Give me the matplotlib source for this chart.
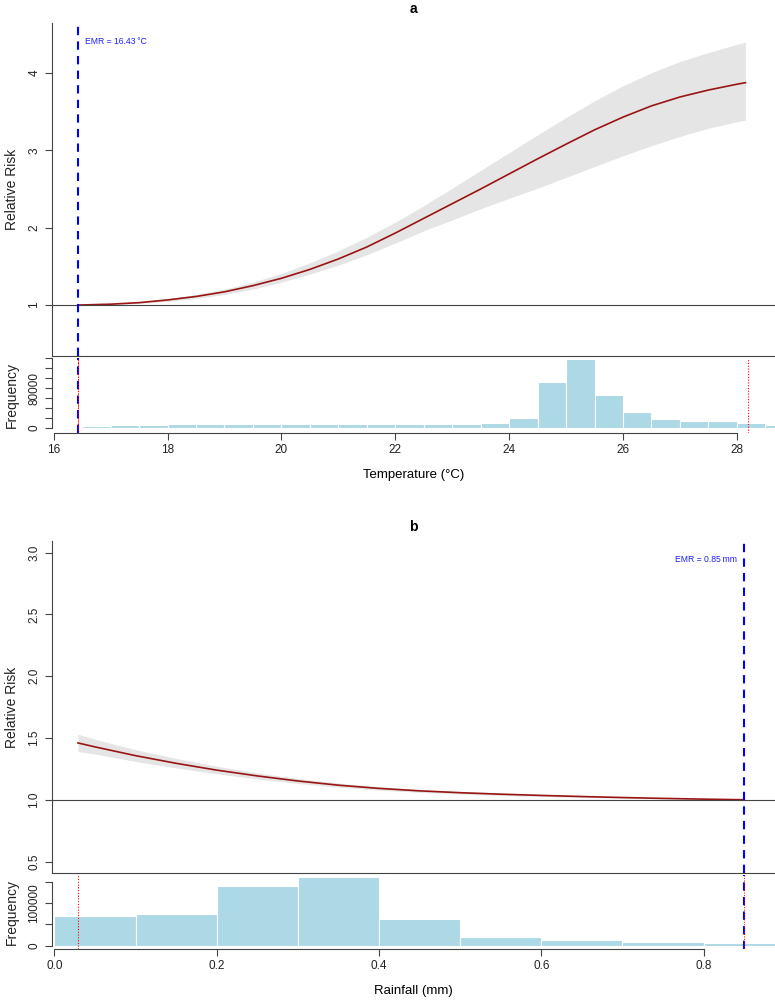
import matplotlib
matplotlib.use("Agg")
import matplotlib.pyplot as plt

plt.rcParams['font.family'] = ['Liberation Sans', 'DejaVu Sans']

# ---- panel a: temperature ----
temp_x = [16.43, 16.5, 17.0, 17.5, 18.0, 18.5, 19.0, 19.5, 20.0, 20.5, 21.0,
          21.5, 22.0, 22.5, 23.0, 23.5, 24.0, 24.5, 25.0, 25.5, 26.0, 26.5,
          27.0, 27.5, 28.0, 28.15]
temp_rr = [1.000, 1.000, 1.010, 1.030, 1.065, 1.110, 1.170, 1.250, 1.345,
           1.460, 1.595, 1.750, 1.930, 2.120, 2.310, 2.500, 2.695, 2.890,
           3.080, 3.265, 3.430, 3.575, 3.690, 3.780, 3.855, 3.875]
temp_lo = [1.000, 1.000, 1.005, 1.020, 1.045, 1.085, 1.135, 1.205, 1.295,
           1.400, 1.515, 1.650, 1.800, 1.960, 2.100, 2.245, 2.380, 2.510,
           2.650, 2.790, 2.930, 3.060, 3.180, 3.285, 3.370, 3.390]
temp_hi = [1.000, 1.000, 1.015, 1.040, 1.080, 1.135, 1.205, 1.295, 1.410,
           1.545, 1.700, 1.875, 2.070, 2.285, 2.510, 2.740, 2.970, 3.200,
           3.425, 3.640, 3.835, 4.005, 4.150, 4.265, 4.370, 4.400]
temp_edges = [16.0, 16.5, 17.0, 17.5, 18.0, 18.5, 19.0, 19.5, 20.0, 20.5, 21.0,
              21.5, 22.0, 22.5, 23.0, 23.5, 24.0, 24.5, 25.0, 25.5, 26.0, 26.5,
              27.0, 27.5, 28.0, 28.5, 29.0]
temp_counts = [2700, 4000, 5300, 5300, 7300, 7300, 7300, 7300, 7300, 7300, 7300,
               7300, 7300, 7300, 7300, 9300, 21000, 93000, 138000, 66000, 33000,
               18000, 15000, 14700, 10700, 6700]
temp_emr = 16.43
temp_p99 = 28.19

# ---- panel b: rainfall ----
rain_x = [0.029, 0.05, 0.10, 0.15, 0.20, 0.25, 0.30, 0.35, 0.40, 0.45, 0.50,
          0.55, 0.60, 0.65, 0.70, 0.75, 0.80, 0.85]
rain_rr = [1.460, 1.428, 1.357, 1.295, 1.240, 1.193, 1.152, 1.118, 1.092,
           1.072, 1.057, 1.045, 1.035, 1.026, 1.018, 1.011, 1.005, 1.000]
rain_lo = [1.390, 1.370, 1.310, 1.258, 1.210, 1.168, 1.132, 1.102, 1.078,
           1.060, 1.046, 1.035, 1.026, 1.019, 1.012, 1.007, 1.003, 1.000]
rain_hi = [1.530, 1.490, 1.405, 1.335, 1.272, 1.218, 1.172, 1.135, 1.106,
           1.084, 1.068, 1.055, 1.044, 1.033, 1.024, 1.015, 1.007, 1.000]
rain_edges = [0.0, 0.1, 0.2, 0.3, 0.4, 0.5, 0.6, 0.7, 0.8, 0.9]
rain_counts = [71000, 75000, 140600, 161000, 62500, 21000, 14000, 9400, 5500]
rain_emr = 0.85
rain_p01 = 0.029

W, H = 775, 1001
fig = plt.figure(figsize=(W / 100, H / 100), dpi=100)

AX_COL = "#444444"
CURVE = "#9a1414"
BAND = "#e5e5e5"
HIST = "#add8e6"
EMR_COL = "#2020ff"


def box(left, top, right, bottom):
    # pixel box -> figure fraction
    return [left / W, 1 - bottom / H, (right - left) / W, (bottom - top) / H]


def style(ax):
    for s in ["top", "right", "bottom", "left"]:
        ax.spines[s].set_visible(False)
    ax.tick_params(colors=AX_COL, labelcolor="#222222", length=5, width=0.8,
                   labelsize=8.5)


def panel(top, main_bot, hist_top, hist_bot, x, rr, lo, hi, xlim, ylim, yticks,
          edges, counts, hylim, hticks, hlabels, xticks, xlabels, xlabel, title,
          emr, emr_text, emr_left, red_lines):
    ax = fig.add_axes(box(52, top, 775, main_bot))
    style(ax)
    ax.fill_between(x, lo, hi, color=BAND, lw=0)
    ax.plot(x, rr, color=CURVE, lw=1.2)
    ax.axhline(1, color=AX_COL, lw=0.8)
    ax.axvline(emr, color="blue", lw=1.5, ls=(0, (4, 3)))
    ax.set_xlim(xlim)
    ax.set_ylim(ylim)
    ax.set_xticks([])
    ax.set_yticks(yticks)
    ax.set_yticklabels([str(t) for t in yticks])
    plt.setp(ax.get_yticklabels(), rotation=90, va="center")
    for s in ["left", "bottom"]:
        ax.spines[s].set_visible(True)
        ax.spines[s].set_color(AX_COL)
        ax.spines[s].set_linewidth(0.8)
    ax.set_title(title, fontsize=10, fontweight="bold", pad=7)
    ty = ylim[1] - (ylim[1] - ylim[0]) * 0.055
    off = (xlim[1] - xlim[0]) * 0.01
    if emr_left:
        ax.text(emr - off, ty, emr_text, color=EMR_COL,
                fontsize=6.2, ha="right", va="center")
    else:
        ax.text(emr + off, ty, emr_text, color=EMR_COL,
                fontsize=6.2, ha="left", va="center")

    hx = fig.add_axes(box(52, hist_top, 775, hist_bot))
    style(hx)
    widths = [edges[i + 1] - edges[i] for i in range(len(counts))]
    hx.bar(edges[:-1], counts, width=widths, align="edge", color=HIST,
           edgecolor="white", lw=0.8)
    for v in red_lines:
        hx.axvline(v, color="red", lw=0.8, ls=(0, (1, 1.5)))
    hx.axvline(emr, color="blue", lw=1.5, ls=(0, (4, 3)))
    hx.axvline(emr, color="red", lw=0.7, ls=(0, (1, 1.5)))
    hx.set_xlim(xlim)
    hx.set_ylim(hylim)
    hx.set_yticks(hticks)
    hx.set_yticklabels(hlabels)
    plt.setp(hx.get_yticklabels(), rotation=90, va="center")
    hx.set_xticks(xticks)
    hx.set_xticklabels(xlabels)
    hx.tick_params(axis="x", pad=3)
    hx.spines["left"].set_visible(True)
    hx.spines["left"].set_bounds(hticks[0], hticks[-1])
    hx.spines["bottom"].set_visible(True)
    hx.spines["bottom"].set_bounds(xticks[0], xticks[-1])
    for s in ["left", "bottom"]:
        hx.spines[s].set_color(AX_COL)
        hx.spines[s].set_linewidth(0.8)
    hx.set_xlabel(xlabel, fontsize=9.5, labelpad=9)

    fig.text(12 / W, 1 - (top + main_bot) / 2 / H, "Relative Risk",
             rotation=90, ha="center", va="center", fontsize=10, color="#222222")
    fig.text(12 / W, 1 - (hist_top + hist_bot) / 2 / H, "Frequency",
             rotation=90, ha="center", va="center", fontsize=10, color="#222222")


panel(23, 356, 358, 433, temp_x, temp_rr, temp_lo, temp_hi,
      (15.97, 28.67), (0.34, 4.647), [1, 2, 3, 4],
      temp_edges, temp_counts, (-10000, 140500),
      list(range(0, 140001, 20000)),
      ["0", "", "", "", "80000", "", "", ""],
      [16, 18, 20, 22, 24, 26, 28], ["16", "18", "20", "22", "24", "26", "28"],
      "Temperature (°C)", "a", temp_emr, "EMR = 16.43\u2009°C", False,
      [temp_emr, temp_p99])

panel(541, 873, 875, 949, rain_x, rain_rr, rain_lo, rain_hi,
      (-0.003, 0.888), (0.407, 3.095), [0.5, 1.0, 1.5, 2.0, 2.5, 3.0],
      rain_edges, rain_counts, (-7750, 166600),
      [0, 50000, 100000, 150000], ["0", "", "100000", ""],
      [0.0, 0.2, 0.4, 0.6, 0.8], ["0.0", "0.2", "0.4", "0.6", "0.8"],
      "Rainfall (mm)", "b", rain_emr, "EMR = 0.85\u2009mm", True,
      [rain_p01])

fig.savefig("out.png", dpi=100)
